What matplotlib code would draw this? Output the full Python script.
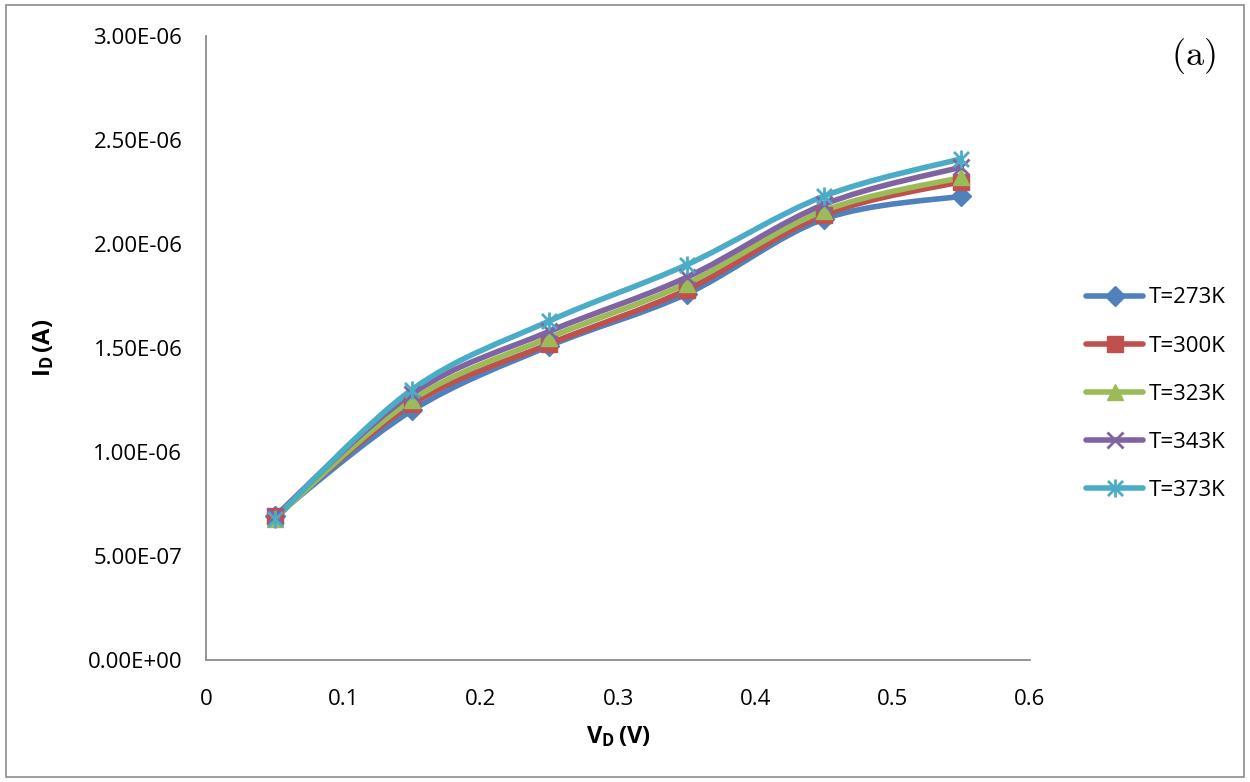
import matplotlib
matplotlib.use("Agg")
import matplotlib.pyplot as plt
from matplotlib.path import Path
from matplotlib.patches import PathPatch, Rectangle
from matplotlib.lines import Line2D
import numpy as np

plt.rcParams['font.family'] = ['Open Sans', 'DejaVu Sans']
plt.rcParams['mathtext.fontset'] = 'custom'
plt.rcParams['mathtext.rm'] = 'Open Sans'
plt.rcParams['mathtext.bf'] = 'Open Sans:bold'

vd = [0.05, 0.15, 0.25, 0.35, 0.45, 0.55]
labels = ["T=273K", "T=300K", "T=323K", "T=343K", "T=373K"]
i_273 = [6.9e-7, 1.20e-6, 1.51e-6, 1.76e-6, 2.12e-6, 2.23e-6]
i_300 = [6.9e-7, 1.23e-6, 1.52e-6, 1.78e-6, 2.14e-6, 2.30e-6]
i_323 = [6.8e-7, 1.25e-6, 1.55e-6, 1.81e-6, 2.16e-6, 2.32e-6]
i_343 = [6.9e-7, 1.28e-6, 1.58e-6, 1.84e-6, 2.19e-6, 2.37e-6]
i_373 = [6.8e-7, 1.30e-6, 1.63e-6, 1.90e-6, 2.23e-6, 2.41e-6]
series = [i_273, i_300, i_323, i_343, i_373]

xticks = [0, 0.1, 0.2, 0.3, 0.4, 0.5, 0.6]
yticks = [0, 5e-7, 1e-6, 1.5e-6, 2e-6, 2.5e-6, 3e-6]
ytick_labels = ["0.00E+00", "5.00E-07", "1.00E-06", "1.50E-06", "2.00E-06", "2.50E-06", "3.00E-06"]
xtick_labels = ["0", "0.1", "0.2", "0.3", "0.4", "0.5", "0.6"]

colors = ["#4F81BD", "#C0504D", "#9BBB59", "#8064A2", "#4BACC6"]

ast = Path([(-1, -1), (1, 1), (-1, 1), (1, -1), (0, -1.2), (0, 1.2)],
           [Path.MOVETO, Path.LINETO, Path.MOVETO, Path.LINETO, Path.MOVETO, Path.LINETO])
markers = [dict(marker='D', ms=10), dict(marker='s', ms=12), dict(marker='^', ms=12),
           dict(marker='x', ms=11, mew=2), dict(marker=ast, ms=13, mew=2)]

fig = plt.figure(figsize=(12.5, 7.82), dpi=100)
fig.patches.append(Rectangle((0.005, 0.006), 0.99, 0.987, transform=fig.transFigure,
                             fill=False, edgecolor='#8c8c8c', lw=1.2))
ax = fig.add_axes([0.1648, 0.156, 0.6592, 0.798])


def smooth_path(x, y):
    pts = np.column_stack([x, y])
    n = len(pts)
    verts = [pts[0]]
    codes = [Path.MOVETO]
    for i in range(n - 1):
        p0 = pts[i - 1] if i > 0 else pts[i]
        p1 = pts[i]
        p2 = pts[i + 1]
        p3 = pts[i + 2] if i + 2 < n else pts[i + 1]
        c1 = p1 + (p2 - p0) / 6.0
        c2 = p2 - (p3 - p1) / 6.0
        verts += [c1, c2, p2]
        codes += [Path.CURVE4] * 3
    return Path(verts, codes)


handles = []
for ys, c, m, lab in zip(series, colors, markers, labels):
    patch = PathPatch(smooth_path(vd, ys), fill=False, edgecolor=c, lw=4,
                      capstyle='round', joinstyle='round', zorder=2)
    ax.add_patch(patch)
    mk = dict(m)
    mew = mk.pop('mew', 1)
    filled = m['marker'] not in ('x',) and not isinstance(m['marker'], Path)
    ax.plot(vd, ys, linestyle='none', color=c, markeredgecolor=c,
            markerfacecolor=c if filled else 'none', mew=mew, zorder=3, **mk)
    handles.append(Line2D([], [], color=c, lw=4, solid_capstyle='round', markeredgecolor=c,
                          markerfacecolor=c if filled else 'none', mew=mew, **mk))

ax.set_xlim(0, 0.6)
ax.set_ylim(0, 3e-6)
ax.set_xticks(xticks)
ax.set_xticklabels(xtick_labels)
ax.set_yticks(yticks)
ax.set_yticklabels(ytick_labels)
ax.tick_params(labelsize=16, colors='#000000', length=0)
ax.tick_params(axis='y', pad=17)
ax.tick_params(axis='x', pad=21)
for s in ['top', 'right']:
    ax.spines[s].set_visible(False)
for s in ['left', 'bottom']:
    ax.spines[s].set_color('#8c8c8c')
    ax.spines[s].set_linewidth(1.3)

ax.set_xlabel(r'$\mathbf{V_D\,(V)}$', fontsize=17, labelpad=10)
ax.set_ylabel(r'$\mathbf{I_D\,(A)}$', fontsize=17, labelpad=23)

fig.legend(handles, labels, loc='center left', bbox_to_anchor=(0.869, 0.496),
           frameon=False, fontsize=16, handlelength=2.55, handletextpad=0.25,
           labelspacing=1.22, borderpad=0, borderaxespad=0)

fig.text(0.9545, 0.929, r'$\mathrm{(a)}$', fontsize=26, math_fontfamily='cm',
         ha='center', va='center')

fig.savefig('out.png', dpi=100)
